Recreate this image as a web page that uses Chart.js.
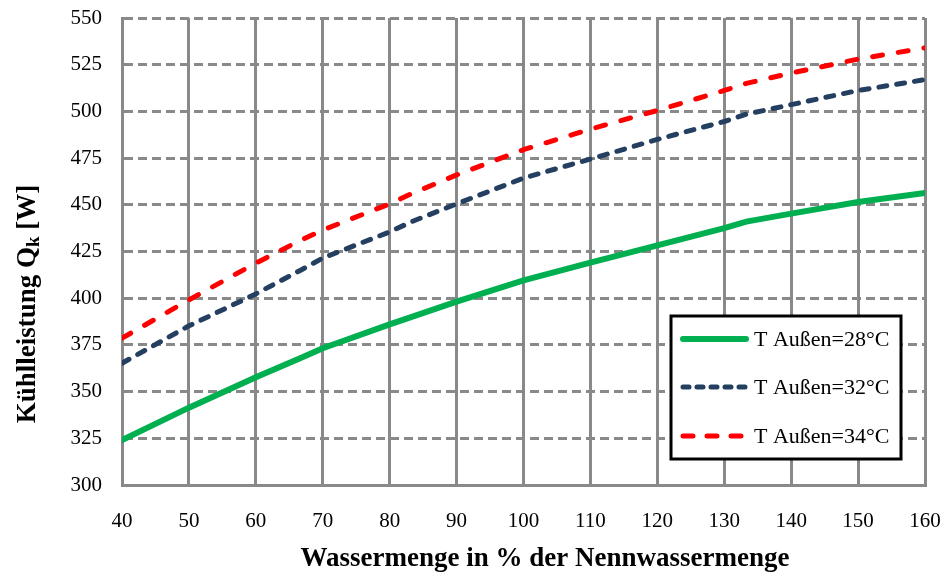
<!DOCTYPE html>
<html>
<head>
<meta charset="utf-8">
<script src="https://cdn.jsdelivr.net/npm/chart.js@4/dist/chart.umd.min.js"></script>
<style>
  html, body { margin: 0; padding: 0; background: #fff; }
  #wrap { width: 944px; height: 576px; }
</style>
</head>
<body>
<div id="wrap"><canvas id="chart" width="944" height="576"></canvas></div>
<script>
// Wassermenge in % (x positions)
const water = [40, 50, 60, 66.7, 70, 80, 83.3, 90, 100, 110, 120, 130, 133.3, 140, 150, 160];

// Kühlleistung Qk [W] for each outside temperature
const q28 = [324, 341.4, 357.7, 368, 373.2, 386, 390, 398.2, 409.6, 419, 428.3, 437.5, 441, 445.3, 451.5, 456.3];
const q32 = [365.2, 385.2, 402.3, 415, 421.5, 435.5, 441, 450.5, 464.3, 474.5, 485, 494.6, 498.5, 503.6, 511.2, 517];
const q34 = [378.6, 399.1, 418.8, 431, 436.5, 450.5, 456, 466, 479.5, 490.5, 500.5, 511.2, 515, 520.5, 528, 534];

const seriesLabels = ['T Außen=28°C', 'T Außen=32°C', 'T Außen=34°C'];
const xTicks = [40, 50, 60, 70, 80, 90, 100, 110, 120, 130, 140, 150, 160];
const yTicks = [300, 325, 350, 375, 400, 425, 450, 475, 500, 525, 550];

const gridColor = '#898989';
const serif = '"Liberation Serif", "Times New Roman", serif';

const toPoints = (ys) => ys.map((y, i) => ({ x: water[i], y }));

// Axis titles and legend box are drawn by hand
const extras = {
    id: 'extras',
    afterDraw(chart) {
        const ctx = chart.ctx;
        ctx.save();

        // x title
        ctx.fillStyle = '#000';
        ctx.font = 'bold 27px ' + serif;
        ctx.textAlign = 'center';
        ctx.textBaseline = 'middle';
        ctx.fillText('Wassermenge in % der Nennwassermenge', 545, 559);

        // y title with subscript k
        ctx.save();
        ctx.translate(26, 304);
        ctx.rotate(-Math.PI / 2);
        ctx.textAlign = 'left';
        ctx.textBaseline = 'alphabetic';
        const a = 'Kühlleistung Q', b = 'k', c = ' [W]';
        ctx.font = 'bold 27px ' + serif;
        const wa = ctx.measureText(a).width, wc = ctx.measureText(c).width;
        ctx.font = 'bold 19px ' + serif;
        const wb = ctx.measureText(b).width;
        let x = -(wa + wb + wc) / 2;
        ctx.font = 'bold 27px ' + serif;
        ctx.fillText(a, x, 9);
        x += wa;
        ctx.font = 'bold 19px ' + serif;
        ctx.fillText(b, x, 13);
        x += wb;
        ctx.font = 'bold 27px ' + serif;
        ctx.fillText(c, x, 9);
        ctx.restore();

        // legend
        const bx = 671, by = 316, bw = 230, bh = 143;
        ctx.fillStyle = '#fff';
        ctx.fillRect(bx, by, bw, bh);
        ctx.strokeStyle = '#000';
        ctx.lineWidth = 3;
        ctx.strokeRect(bx, by, bw, bh);
        const rows = [339, 387, 436];
        const legendDash = [[], [6, 8], [10, 14]];
        chart.data.datasets.forEach((ds, i) => {
            ctx.save();
            ctx.strokeStyle = ds.borderColor;
            ctx.lineWidth = ds.borderWidth;
            ctx.lineCap = ds.borderCapStyle || 'butt';
            ctx.setLineDash(legendDash[i]);
            ctx.beginPath();
            ctx.moveTo(683, rows[i]);
            ctx.lineTo(746, rows[i]);
            ctx.stroke();
            ctx.restore();
            ctx.fillStyle = '#000';
            ctx.font = '22px ' + serif;
            ctx.textAlign = 'left';
            ctx.textBaseline = 'middle';
            ctx.fillText(ds.label, 754, rows[i] + 1);
        });
        ctx.restore();
    }
};

new Chart(document.getElementById('chart'), {
    type: 'line',
    data: {
        datasets: [
            { label: seriesLabels[0], data: toPoints(q28), borderColor: '#00B050', borderWidth: 6, borderCapStyle: 'round', pointRadius: 0, tension: 0 },
            { label: seriesLabels[1], data: toPoints(q32), borderColor: '#243F60', borderWidth: 5, borderDash: [8, 10], borderCapStyle: 'round', pointRadius: 0, tension: 0 },
            { label: seriesLabels[2], data: toPoints(q34), borderColor: '#FF0000', borderWidth: 5, borderDash: [10, 16], borderCapStyle: 'round', pointRadius: 0, tension: 0 }
        ]
    },
    options: {
        responsive: false,
        animation: false,
        events: [],
        layout: { padding: { left: 0, right: 19, top: 18, bottom: 0 } },
        plugins: { legend: { display: false }, tooltip: { enabled: false } },
        scales: {
            x: {
                type: 'linear',
                min: 40,
                max: 160,
                afterBuildTicks: (s) => { s.ticks = xTicks.map(v => ({ value: v })); },
                afterFit: (s) => { s.height = 91; s.paddingLeft = 0; s.paddingRight = 0; },
                ticks: { color: '#000', font: { family: serif, size: 21 }, padding: 24 },
                grid: { color: gridColor, lineWidth: 3, drawTicks: false },
                border: { color: gridColor, width: 3 }
            },
            y: {
                min: 300,
                max: 550,
                afterBuildTicks: (s) => { s.ticks = yTicks.map(v => ({ value: v })); },
                afterFit: (s) => { s.width = 122; s.paddingTop = 0; s.paddingBottom = 0; },
                ticks: { color: '#000', font: { family: serif, size: 21 }, padding: 20 },
                grid: { color: gridColor, lineWidth: 3, drawTicks: false },
                border: { color: gridColor, width: 3, dash: [9, 5] }
            }
        }
    },
    plugins: [extras]
});
</script>
</body>
</html>
